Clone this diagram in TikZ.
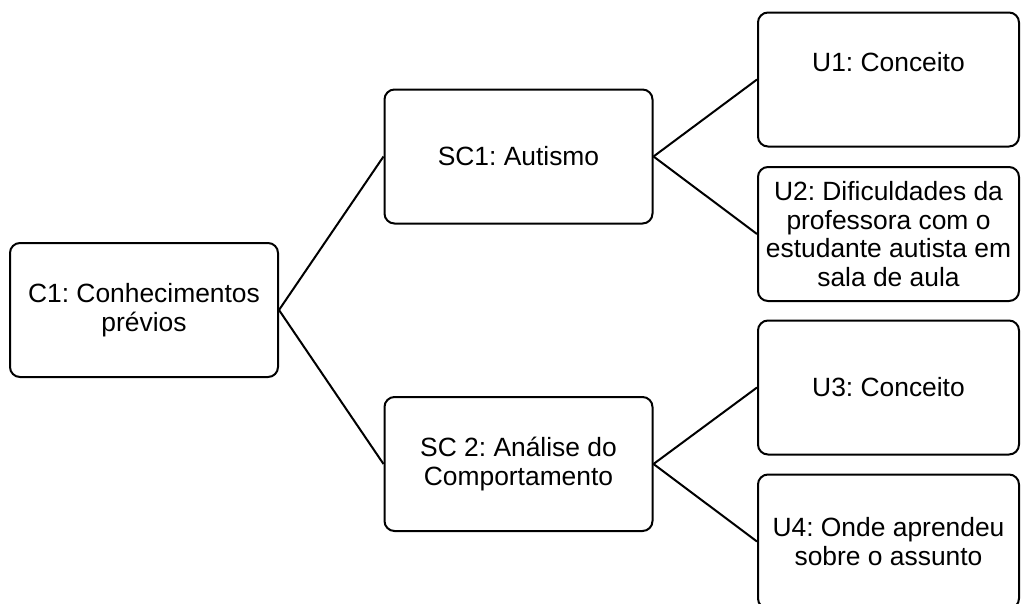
\documentclass[tikz,border=0pt]{standalone}
\usepackage{fontspec}
\setmainfont{Liberation Sans}
\frenchspacing
\begin{document}
\begin{tikzpicture}[x=1pt,y=-1pt,
  box/.style={draw=black,line width=2pt,rounded corners=10pt,align=center,
    inner sep=0pt,font=\fontsize{26.4}{28.5}\selectfont},
  wide/.style={box,minimum width=268pt,minimum height=134pt},
  unit/.style={box,minimum width=261pt,minimum height=134pt},
  link/.style={line width=2pt}]
\useasboundingbox (0,0) rectangle (1021,603);
\node[wide] (c1) at (144,310) {C1: Conhecimentos\\prévios};
\node[wide] (sc1) at (518.5,156.5) {SC1: Autismo};
\node[wide] (sc2) at (518.5,464) {SC 2: Análise do\\Comportamento};
\node[unit] (u1) at (888.5,79.5) {U1: Conceito\\[6pt]\mbox{}};
\node[unit] (u2) at (888.5,234) {U2: Dificuldades da\\professora com o\\estudante autista em\\sala de aula};
\node[unit] (u3) at (888.5,387.5) {U3: Conceito};
\node[unit] (u4) at (888.5,541.5) {U4: Onde aprendeu\\sobre o assunto};
\draw[link] (c1.east) -- (sc1.west);
\draw[link] (c1.east) -- (sc2.west);
\draw[link] (sc1.east) -- (u1.west);
\draw[link] (sc1.east) -- (u2.west);
\draw[link] (sc2.east) -- (u3.west);
\draw[link] (sc2.east) -- (u4.west);
\end{tikzpicture}
\end{document}
